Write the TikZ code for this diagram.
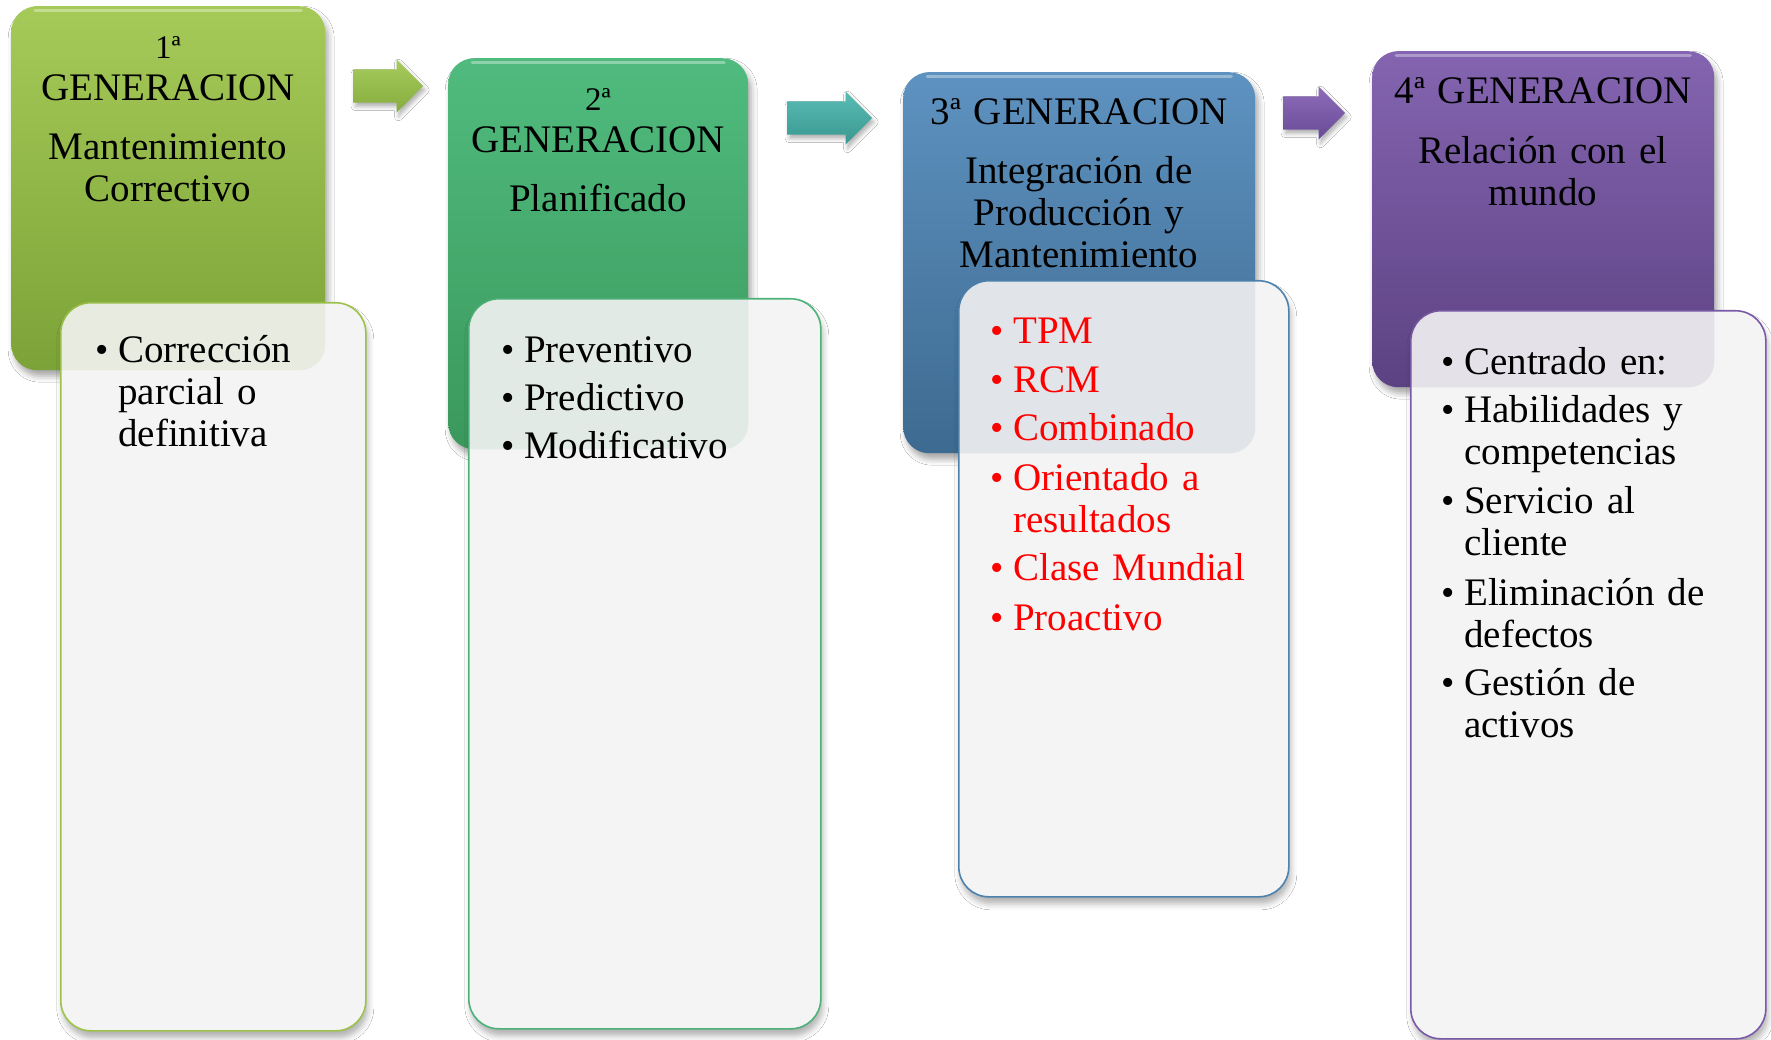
\documentclass[tikz,border=0pt]{standalone}
\usepackage{fontspec}
\setmainfont{Liberation Serif}
\usetikzlibrary{shapes.arrows,shadows.blur}
\definecolor{gAt}{HTML}{A6CA58}\definecolor{gAb}{HTML}{7CA338}\definecolor{gAl}{HTML}{9CC24C}
\definecolor{gBt}{HTML}{50BB7E}\definecolor{gBb}{HTML}{3B985C}\definecolor{gBl}{HTML}{4DB279}
\definecolor{gCt}{HTML}{5E92C0}\definecolor{gCb}{HTML}{3D6A90}\definecolor{gCl}{HTML}{4E82AE}
\definecolor{gDt}{HTML}{8464B0}\definecolor{gDb}{HTML}{5C4282}\definecolor{gDl}{HTML}{7A5AA6}
\definecolor{arAt}{HTML}{A8CC5E}\definecolor{arAb}{HTML}{84AC3C}
\definecolor{arBt}{HTML}{58BCB5}\definecolor{arBb}{HTML}{3A9890}
\definecolor{arCt}{HTML}{8E6CBA}\definecolor{arCb}{HTML}{684A96}
\definecolor{subfill}{HTML}{F4F4F4}
\newcommand\bul{\makebox[23pt][l]{\fontsize{38}{38}\selectfont\textbullet}}
\newcommand\ind{\hspace*{23pt}}
\tikzset{
  hdr/.style={rectangle, rounded corners=26pt, anchor=north west, inner sep=0pt,
    blur shadow={shadow xshift=3pt, shadow yshift=-6pt, shadow blur radius=6pt, shadow opacity=35}},
  subbox/.style={rectangle, rounded corners=30pt, anchor=north west, inner sep=0pt,
    fill=subfill, line width=1.6pt,
    blur shadow={shadow xshift=2pt, shadow yshift=-7pt, shadow blur radius=6pt, shadow opacity=30}},
  arr/.style={single arrow, single arrow head extend=10pt, single arrow head indent=0pt,
    inner xsep=0pt, inner ysep=16.5pt, minimum width=53pt, anchor=west,
    blur shadow={shadow xshift=2pt, shadow yshift=-4pt, shadow blur radius=4pt, shadow opacity=30}},
  htxt/.style={text width=340pt, align=center, anchor=base, inner sep=0pt,
    font=\fontsize{39}{42}\selectfont},
  ltxt/.style={text width=320pt, align=left, anchor=base west, inner sep=0pt,
    font=\fontsize{39}{42}\selectfont},
  gloss/.style={white, opacity=0.35, line width=3pt, line cap=round}
}
\begin{document}
\begin{tikzpicture}[x=1pt,y=-1pt]
\fill[white] (0,0) rectangle (1771,1040);
\useasboundingbox (0,0) rectangle (1771,1040);

% header boxes
\node[hdr, top color=gAt, bottom color=gAb, minimum width=314pt, minimum height=364pt] (h1) at (11,6) {};
\node[hdr, top color=gBt, bottom color=gBb, minimum width=300pt, minimum height=391pt] (h2) at (448,58) {};
\node[hdr, top color=gCt, bottom color=gCb, minimum width=352pt, minimum height=381pt] (h3) at (903,72) {};
\node[hdr, top color=gDt, bottom color=gDb, minimum width=342pt, minimum height=336pt] (h4) at (1372,51) {};
\foreach \h in {h1,h2,h3,h4}
  \draw[gloss] ([xshift=24pt,yshift=-5pt]\h.north west) -- ([xshift=-24pt,yshift=-5pt]\h.north east);

% arrows
\node[arr, top color=arAt, bottom color=arAb, minimum height=70pt] (a1) at (353,86) {};
\node[arr, top color=arBt, bottom color=arBb, minimum height=85pt] (a2) at (787,118) {};
\node[arr, top color=arCt, bottom color=arCb, minimum height=62pt] (a3) at (1283,113) {};

% header texts
\node[htxt] (t1) at (168,59) {{\fontsize{33}{42}\selectfont 1ª}\\GENERACION\\[17pt]Mantenimiento\\Correctivo};
\node[htxt] (t2) at (598,111) {{\fontsize{33}{42}\selectfont 2ª}\\GENERACION\\[17pt]Planificado};
\node[htxt] (t3) at (1079,125) {3ª GENERACION\\[17pt]Integración de\\Producción y\\Mantenimiento};
\node[htxt] (t4) at (1543,104) {4ª GENERACION\\[18pt]Relación con el\\mundo};

% sub boxes
\node[subbox, draw=gAl, minimum width=305pt, minimum height=728pt] (s1) at (60,302) {};
\node[subbox, draw=gBl, minimum width=352pt, minimum height=730pt] (s2) at (468,298) {};
\node[subbox, draw=gCl, minimum width=330pt, minimum height=616pt] (s3) at (958,280) {};
\node[subbox, draw=gDl, minimum width=355pt, minimum height=728pt] (s4) at (1410,310) {};

% faint see-through of the header boxes
\begin{scope}
  \clip[rounded corners=30pt] (s1.north west) rectangle (s1.south east);
  \fill[gAb, opacity=0.10, rounded corners=26pt] (h1.north west) rectangle (h1.south east);
\end{scope}
\begin{scope}
  \clip[rounded corners=30pt] (s2.north west) rectangle (s2.south east);
  \fill[gBb, opacity=0.10, rounded corners=26pt] (h2.north west) rectangle (h2.south east);
\end{scope}
\begin{scope}
  \clip[rounded corners=30pt] (s3.north west) rectangle (s3.south east);
  \fill[gCb, opacity=0.10, rounded corners=26pt] (h3.north west) rectangle (h3.south east);
\end{scope}
\begin{scope}
  \clip[rounded corners=30pt] (s4.north west) rectangle (s4.south east);
  \fill[gDb, opacity=0.10, rounded corners=26pt] (h4.north west) rectangle (h4.south east);
\end{scope}

% list texts
\node[ltxt] (l1) at (95,362) {\bul Corrección\\\ind parcial o\\\ind definitiva};
\node[ltxt] (l2) at (501,362) {\bul Preventivo\\[6pt]\bul Predictivo\\[6pt]\bul Modificativo};
\node[ltxt, text=red] (l3) at (990,343) {\bul TPM\\[7pt]\bul RCM\\[6pt]\bul Combinado\\[8pt]\bul Orientado a\\\ind resultados\\[6pt]\bul Clase Mundial\\[8pt]\bul Proactivo};
\node[ltxt] (l4) at (1441,374) {\bul Centrado en:\\[6pt]\bul Habilidades y\\\ind competencias\\[7pt]\bul Servicio al\\\ind cliente\\[8pt]\bul Eliminación de\\\ind defectos\\[6pt]\bul Gestión de\\\ind activos};
\end{tikzpicture}
\end{document}
